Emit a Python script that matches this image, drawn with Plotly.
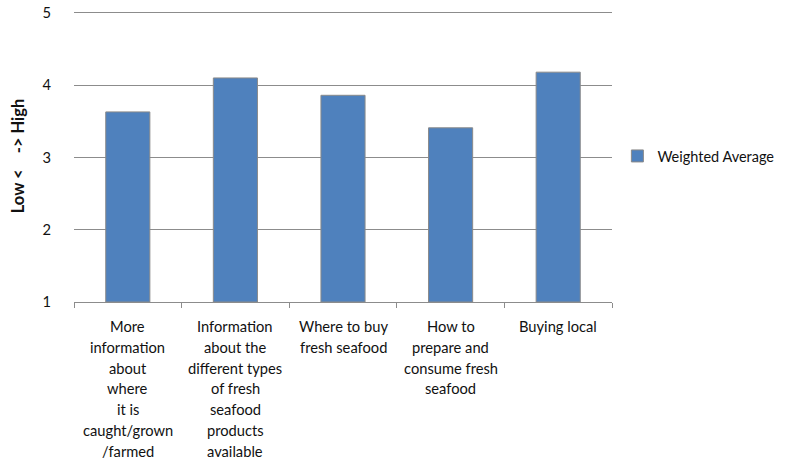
import plotly.graph_objects as go

# Survey results: interest in seafood information topics (1 = low, 5 = high)
categories = [
    "More information about where it is caught/grown /farmed",
    "Information about the different types of fresh seafood products available",
    "Where to buy fresh seafood",
    "How to prepare and consume fresh seafood",
    "Buying local",
]
label_lines = [
    ["More", "information", "about", "where", "it is", "caught/grown", "/farmed"],
    ["Information", "about the", "different types", "of fresh", "seafood", "products", "available"],
    ["Where to buy", "fresh seafood"],
    ["How to", "prepare and", "consume fresh", "seafood"],
    ["Buying local"],
]
weighted_average = [3.63, 4.10, 3.86, 3.41, 4.18]
y_floor = 1
y_ticks = [1, 2, 3, 4, 5]

FONT = "Lato"
TEXT = "#111111"
GRID = "#8c8c8c"

fig = go.Figure()
# bars rise from the axis floor (1) up to each weighted average
fig.add_trace(go.Bar(
    x=categories,
    y=[v - y_floor for v in weighted_average],
    base=y_floor,
    name="Weighted Average",
    customdata=weighted_average,
    hovertemplate="%{x}<br>%{customdata}<extra></extra>",
    marker=dict(color="#4F81BD", line=dict(color="#8a8a8a", width=1)),
))

annotations = []
for cat, lines in zip(categories, label_lines):
    for i, line in enumerate(lines):
        annotations.append(dict(
            x=cat, xref="x", y=0, yref="paper",
            text=line, showarrow=False,
            xanchor="center", yanchor="middle",
            yshift=-(24 + i * 20.8),
            font=dict(family=FONT, size=14.7, color=TEXT),
        ))

fig.update_layout(
    width=789, height=462,
    margin=dict(l=74, r=177, t=10, b=160),
    paper_bgcolor="white", plot_bgcolor="white",
    font=dict(family=FONT, size=14.7, color=TEXT),
    bargap=0.59,
    showlegend=True,
    legend=dict(x=1.01, y=0.5, xanchor="left", yanchor="middle",
                font=dict(family=FONT, size=14.5, color=TEXT),
                itemwidth=30, borderwidth=0,
                bgcolor="rgba(0,0,0,0)"),
    annotations=annotations,
)
fig.update_xaxes(
    showticklabels=False, automargin=False,
    tickson="boundaries", ticks="outside", ticklen=5, tickcolor=GRID,
    showline=True, linecolor=GRID, linewidth=1,
    showgrid=False,
)
fig.update_yaxes(
    range=[1, 5.04], tickvals=y_ticks, automargin=False,
    showgrid=True, gridcolor=GRID, gridwidth=1,
    zeroline=False, showline=False, ticks="",
    ticklabelstandoff=22,
    title=dict(text="<b>Low &lt;&nbsp;&nbsp;&nbsp;&nbsp;-&gt; High</b>",
               font=dict(family=FONT, size=16.5, color=TEXT), standoff=13),
)

fig.write_html("out.html")
